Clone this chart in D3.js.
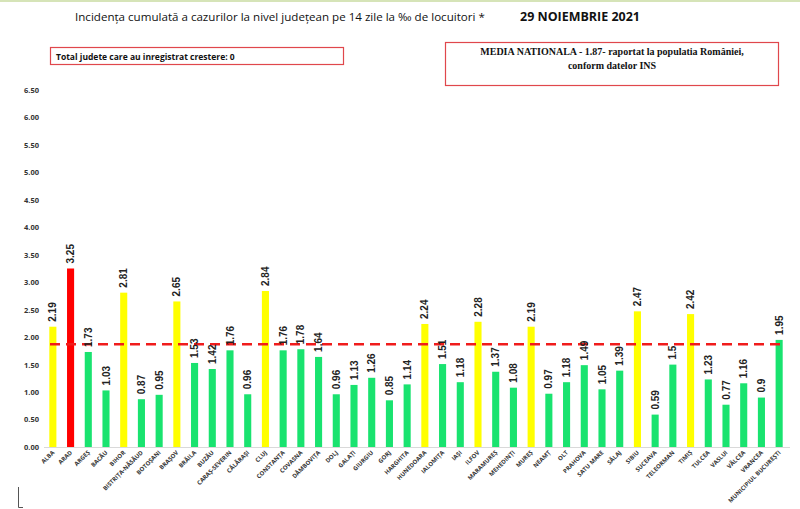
<!DOCTYPE html>
<html>
<head>
<meta charset="utf-8">
<script src="https://cdn.jsdelivr.net/npm/d3@7"></script>
<style>
  html, body { margin: 0; padding: 0; background: #fff; }
  svg { display: block; }
</style>
</head>
<body>
<svg id="chart" width="800" height="509"></svg>
<script>
// Judete, in the order they appear on the x axis
const counties = [
  'ALBA', 'ARAD', 'ARGEȘ', 'BACĂU', 'BIHOR', 'BISTRIȚA-NĂSĂUD', 'BOTOȘANI', 'BRAȘOV',
  'BRĂILA', 'BUZĂU', 'CARAȘ-SEVERIN', 'CĂLĂRAȘI', 'CLUJ', 'CONSTANȚA', 'COVASNA',
  'DÂMBOVIȚA', 'DOLJ', 'GALAȚI', 'GIURGIU', 'GORJ', 'HARGHITA', 'HUNEDOARA', 'IALOMIȚA',
  'IAȘI', 'ILFOV', 'MARAMUREȘ', 'MEHEDINȚI', 'MUREȘ', 'NEAMȚ', 'OLT', 'PRAHOVA',
  'SATU MARE', 'SĂLAJ', 'SIBIU', 'SUCEAVA', 'TELEORMAN', 'TIMIȘ', 'TULCEA', 'VASLUI',
  'VÂLCEA', 'VRANCEA', 'MUNICIPIUL BUCUREȘTI'
];
// incidenta la 14 zile, la mia de locuitori
const incidence = [
  2.19, 3.25, 1.73, 1.03, 2.81, 0.87, 0.95, 2.65, 1.53, 1.42, 1.76, 0.96, 2.84, 1.76,
  1.78, 1.64, 0.96, 1.13, 1.26, 0.85, 1.14, 2.24, 1.51, 1.18, 2.28, 1.37, 1.08, 2.19,
  0.97, 1.18, 1.49, 1.05, 1.39, 2.47, 0.59, 1.5, 2.42, 1.23, 0.77, 1.16, 0.9, 1.95
];
const nationalAvg = 1.87;
const yTicks = [0, 0.5, 1, 1.5, 2, 2.5, 3, 3.5, 4, 4.5, 5, 5.5, 6, 6.5];

const titleText = 'Incidența cumulată a cazurilor la nivel județean pe 14 zile la ‰ de locuitori *';
const dateText = '29 NOIEMBRIE 2021';
const growthText = 'Total judete care au inregistrat crestere: 0';
const avgLines = ['MEDIA NATIONALA - 1.87-  raportat la populatia României,', 'conform datelor INS'];

const svg = d3.select('#chart');
const narrow = "'Liberation Sans Narrow', 'Open Sans', Arial, sans-serif";

// thin greenish rule along the top edge
svg.append('rect').attr('x', 0).attr('y', 0).attr('width', 800).attr('height', 2).attr('fill', '#d6e4b8');

const x = d3.scaleBand().domain(counties).range([44, 788]).paddingInner(0.6).paddingOuter(0.3);
const y = d3.scaleLinear().domain([0, 6.5]).range([447, 90]);

// colour from the level of the value
const barColor = v => v >= 3 ? '#ff0000' : v >= 2 ? '#ffff00' : '#19e36f';

// shrink/grow a text's font size until it spans the wanted width
function fitWidth(sel, width) {
  const node = sel.node();
  const fs = parseFloat(sel.attr('font-size'));
  const w = node.getComputedTextLength();
  if (w > 0) sel.attr('font-size', (fs * width / w).toFixed(2));
  return sel;
}

// titles
fitWidth(svg.append('text').attr('x', 75).attr('y', 21)
  .attr('font-family', narrow).attr('font-size', 13).attr('fill', '#111')
  .text(titleText), 410);
fitWidth(svg.append('text').attr('x', 520).attr('y', 21)
  .attr('font-family', narrow).attr('font-size', 13).attr('font-weight', 'bold').attr('fill', '#111')
  .text(dateText), 120);

// info boxes
svg.append('rect').attr('x', 50.5).attr('y', 47.5).attr('width', 293).attr('height', 17)
  .attr('fill', 'none').attr('stroke', '#e0474c').attr('stroke-width', 1.2);
svg.append('text').attr('x', 56).attr('y', 59.5)
  .attr('font-family', narrow).attr('font-size', 8.5).attr('font-weight', 'bold').attr('fill', '#111')
  .text(growthText);

svg.append('rect').attr('x', 445.5).attr('y', 42.5).attr('width', 333).attr('height', 43)
  .attr('fill', 'none').attr('stroke', '#e0474c').attr('stroke-width', 1.2);
svg.append('g').selectAll('text').data(avgLines).join('text')
  .attr('x', 612).attr('y', (d, i) => 55 + i * 14)
  .attr('text-anchor', 'middle')
  .attr('font-family', "'Liberation Serif', 'DejaVu Serif', serif")
  .attr('font-size', 10).attr('font-weight', 'bold').attr('fill', '#111')
  .text(d => d);

// y axis: labels only
const yAxis = svg.append('g').attr('transform', 'translate(39,0)')
  .call(d3.axisLeft(y).tickValues(yTicks).tickFormat(d3.format('.2f')).tickSize(0).tickPadding(0));
yAxis.select('.domain').remove();
yAxis.selectAll('text')
  .attr('font-family', narrow).attr('font-size', 7.5).attr('font-weight', 'bold').attr('fill', '#333');

// x axis
const xAxis = svg.append('g').attr('transform', `translate(0,${y(0)})`)
  .call(d3.axisBottom(x).tickSize(0).tickPadding(0));
xAxis.select('.domain').attr('d', 'M44,0.5H790').attr('stroke', '#d9d9d9');
xAxis.selectAll('text')
  .attr('font-family', narrow).attr('font-size', 6).attr('font-weight', 'bold').attr('fill', '#333')
  .attr('text-anchor', 'end').attr('dy', 0)
  .attr('transform', 'translate(2,6) rotate(-45)');

// bars
svg.append('g').selectAll('rect').data(counties).join('rect')
  .attr('x', d => x(d))
  .attr('y', (d, i) => y(incidence[i]))
  .attr('width', x.bandwidth())
  .attr('height', (d, i) => y(0) - y(incidence[i]))
  .attr('fill', (d, i) => barColor(incidence[i]));

// national average
svg.append('line')
  .attr('x1', 50).attr('x2', 786)
  .attr('y1', y(nationalAvg)).attr('y2', y(nationalAvg))
  .attr('stroke', '#f01c1c').attr('stroke-width', 2.5).attr('stroke-dasharray', '10,6');

// value labels
svg.append('g').selectAll('text').data(counties).join('text')
  .attr('transform', (d, i) => `translate(${x(d) + x.bandwidth() / 2 + 3.5},${y(incidence[i]) - 5}) rotate(-90)`)
  .attr('font-family', "'Liberation Sans', Arial, sans-serif")
  .attr('font-size', 10).attr('font-weight', 'bold').attr('fill', '#222')
  .text((d, i) => String(incidence[i]));

// small corner mark bottom left
svg.append('path').attr('d', 'M18.5,487V507.5H23').attr('fill', 'none').attr('stroke', '#555').attr('stroke-width', 1);
</script>
</body>
</html>
